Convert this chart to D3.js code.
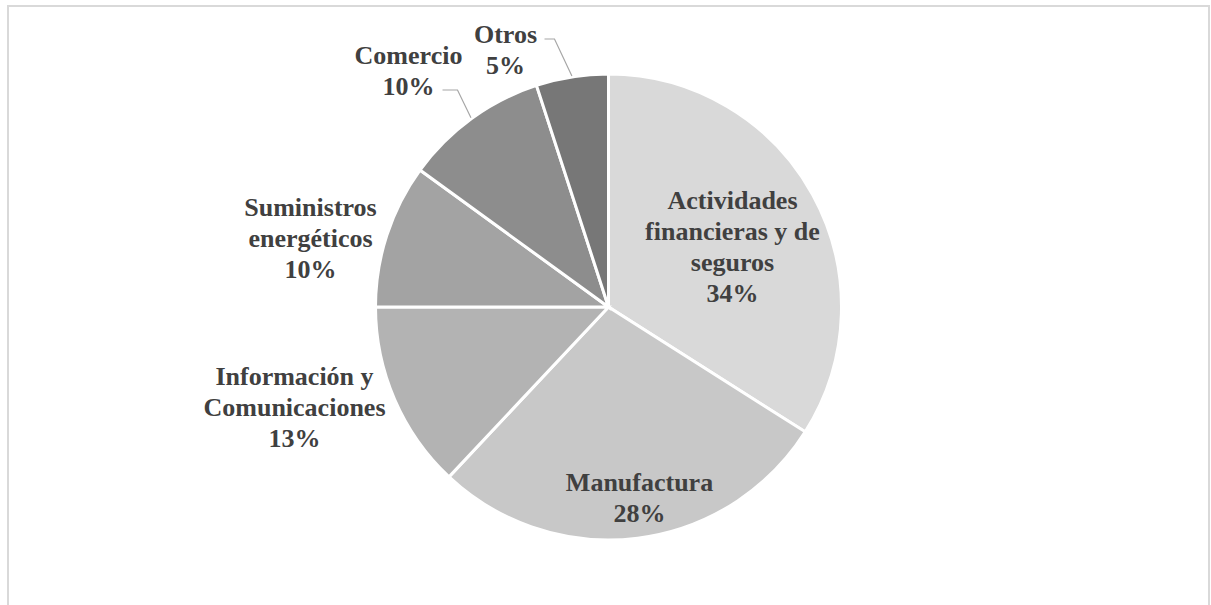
<!DOCTYPE html>
<html>
<head>
<meta charset="utf-8">
<script src="https://cdn.jsdelivr.net/npm/d3@7"></script>
<style>
  html, body { margin: 0; padding: 0; background: #fff; }
  svg { display: block; }
</style>
</head>
<body>
<div id="chart"></div>
<script>
// data
const sectors = ["Actividades financieras y de seguros", "Manufactura", "Información y Comunicaciones",
  "Suministros energéticos", "Comercio", "Otros"];
const shares = [34, 28, 13, 10, 10, 5];
const labelLines = [
  ["Actividades", "financieras y de", "seguros"],
  ["Manufactura"],
  ["Información y", "Comunicaciones"],
  ["Suministros", "energéticos"],
  ["Comercio"],
  ["Otros"]
];
const sliceColors = ["#d9d9d9", "#c8c8c8", "#b3b3b3", "#a3a3a3", "#8d8d8d", "#777777"];

// layout
const width = 1211, height = 605;
const cx = 608.5, cy = 307, radius = 233;
const lineH = 31;
// label block centres relative to pie centre
const labelOffsets = [[124, -61], [31, 190], [-314, 100], [-298, -69], [-200, -237], [-103, -258]];
// leader lines for the outside labels: [start, elbow] relative to pie centre
const leaders = {
  4: [[-166, -217], [-151, -217]],
  5: [[-64, -268], [-54, -268]]
};

const svg = d3.select("#chart").append("svg")
  .attr("width", width)
  .attr("height", height);

svg.append("rect")
  .attr("x", 8).attr("y", 6)
  .attr("width", 1201).attr("height", 640)
  .attr("fill", "#fff")
  .attr("stroke", "#d9d9d9")
  .attr("stroke-width", 2);

const pie = d3.pie().sort(null).value(d => d)(shares);
const arc = d3.arc().innerRadius(0).outerRadius(radius);

const g = svg.append("g").attr("transform", `translate(${cx},${cy})`);

g.selectAll("path.slice")
  .data(pie)
  .enter()
  .append("path")
  .attr("class", "slice")
  .attr("d", arc)
  .attr("fill", (d, i) => sliceColors[i])
  .attr("stroke", "#fff")
  .attr("stroke-width", 3)
  .attr("stroke-linejoin", "miter");

// leader lines
Object.keys(leaders).forEach(k => {
  const d = pie[k];
  const mid = (d.startAngle + d.endAngle) / 2;
  const end = [Math.sin(mid) * (radius + 1), -Math.cos(mid) * (radius + 1)];
  const pts = leaders[k].concat([end]);
  g.append("path")
    .attr("d", d3.line()(pts))
    .attr("fill", "none")
    .attr("stroke", "#a6a6a6")
    .attr("stroke-width", 1.2);
});

// labels
const labels = g.selectAll("text.lbl")
  .data(pie)
  .enter()
  .append("text")
  .attr("class", "lbl")
  .attr("text-anchor", "middle")
  .attr("font-family", "'Liberation Serif', 'Times New Roman', serif")
  .attr("font-weight", "bold")
  .attr("font-size", 26)
  .attr("fill", "#404040");

labels.each(function (d, i) {
  const lines = labelLines[i].concat([d.data + "%"]);
  const [ox, oy] = labelOffsets[i];
  const top = oy - (lines.length - 1) * lineH / 2;
  d3.select(this).selectAll("tspan")
    .data(lines)
    .enter()
    .append("tspan")
    .attr("x", ox)
    .attr("y", (t, j) => top + j * lineH)
    .attr("dy", "0.35em")
    .text(t => t);
});
</script>
</body>
</html>
